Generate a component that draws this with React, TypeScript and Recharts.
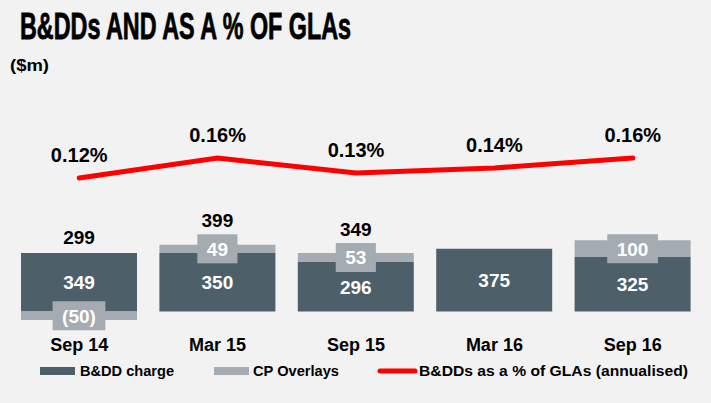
import { ComposedChart, Bar, Line, XAxis, YAxis, LabelList } from 'recharts'

const periods = ['Sep 14', 'Mar 15', 'Sep 15', 'Mar 16', 'Sep 16']
const bddCharge = [349, 350, 296, 375, 325]
const cpOverlays = [-50, 49, 53, null, 100]
const totals = [299, 399, 349, null, 425]
const pctOfGlas = [0.12, 0.16, 0.13, 0.14, 0.16]

const data = periods.map((period, i) => ({
    period,
    charge: bddCharge[i],
    overlay: cpOverlays[i],
    total: totals[i],
    pct: pctOfGlas[i],
}))

const DARK = '#4d606a'
const GREY = '#a5acb1'
const RED = '#ff0000'
const ARIAL = "'Liberation Sans', Arial, sans-serif"

// rough Arial bold glyph widths, used to size the overlay label boxes
const textWidth = (s: string, size: number) =>
    s.split('').reduce((w, c) => w + (c === '(' || c === ')' ? 0.333 : 0.556), 0) * size

const fmtOverlay = (v: number) => (v < 0 ? `(${Math.abs(v)})` : String(v))

const ChargeLabel = (props: any) => {
    const { x, y, width, height } = props.viewBox ?? props
    const i = props.index
    const cx = x + width / 2
    const top = Math.min(y, y + height)
    const overlay = cpOverlays[i]
    const total = totals[i]
    return (
        <g>
            <text x={cx} y={y + height / 2} dy="0.36em" textAnchor="middle" fill="#fff"
                fontFamily={ARIAL} fontWeight="bold" fontSize={19}>
                {props.value}
            </text>
            {/* total sits on the charge bar when the overlay is negative */}
            {overlay != null && overlay < 0 && total != null && (
                <text x={cx} y={top - 16} dy="0.36em" textAnchor="middle" fill="#000"
                    fontFamily={ARIAL} fontWeight="bold" fontSize={19}>
                    {total}
                </text>
            )}
        </g>
    )
}

const OverlayLabel = (props: any) => {
    const { x, y, width, height } = props.viewBox ?? props
    const i = props.index
    const value = props.value
    if (value == null || value === 0) return null
    const cx = x + width / 2
    const cy = y + height / 2
    const text = fmtOverlay(value)
    const boxW = textWidth(text, 19) + 19
    const boxH = 29
    const boxTop = cy - boxH / 2
    const top = Math.min(y, y + height, boxTop)
    const total = totals[i]
    return (
        <g>
            <rect x={cx - boxW / 2} y={boxTop} width={boxW} height={boxH} fill={GREY} />
            <text x={cx} y={cy} dy="0.36em" textAnchor="middle" fill="#fff"
                fontFamily={ARIAL} fontWeight="bold" fontSize={19}>
                {text}
            </text>
            {value > 0 && total != null && (
                <text x={cx} y={top - 14} dy="0.36em" textAnchor="middle" fill="#000"
                    fontFamily={ARIAL} fontWeight="bold" fontSize={19}>
                    {total}
                </text>
            )}
        </g>
    )
}

const PctLabel = (props: any) => {
    const { x, y } = props.viewBox ?? props
    return (
        <text x={x} y={y - 23} dy="0.36em" textAnchor="middle" fill="#000"
            fontFamily={ARIAL} fontWeight="bold" fontSize={20}>
            {`${Number(props.value).toFixed(2)}%`}
        </text>
    )
}

const PeriodTick = (props: any) => (
    <text x={props.x} y={props.y + 15} dy="0.36em" textAnchor="middle" fill="#000"
        fontFamily={ARIAL} fontWeight="bold" fontSize={18}>
        {props.payload.value}
    </text>
)

export default function App() {
    return (
        <div style={{ position: 'absolute', left: 0, top: 0, width: 711, height: 403, background: '#f2f2f2', overflow: 'hidden' }}>
            <svg width={711} height={90} style={{ position: 'absolute', left: 0, top: 0 }}>
                <text x={20} y={39} fontFamily={ARIAL} fontWeight="bold" fontSize={36}
                    textLength={331} lengthAdjust="spacingAndGlyphs" fill="#000"
                    stroke="#000" strokeWidth={0.8}>
                    B&amp;DDs AND AS A % OF GLAs
                </text>
                <text x={10} y={65} dy="0.36em" fontFamily={ARIAL} fontWeight="bold" fontSize={16}
                    textLength={39} lengthAdjust="spacingAndGlyphs" fill="#000">
                    ($m)
                </text>
            </svg>
            <div style={{ position: 'absolute', left: 0, top: 0 }}>
                <ComposedChart width={711} height={403} data={data} stackOffset="sign"
                    margin={{ top: 0, right: 9, bottom: 43, left: 10 }}>
                    <XAxis dataKey="period" axisLine={false} tickLine={false} tickSize={0} tickMargin={0}
                        height={30} interval={0} tick={<PeriodTick />} />
                    <YAxis yAxisId="bars" hide domain={[-110, 1859]} allowDataOverflow />
                    <YAxis yAxisId="pct" orientation="right" hide domain={[-0.184, 0.476]} allowDataOverflow />
                    <Bar yAxisId="bars" dataKey="charge" stackId="a" fill={DARK} barSize={116} isAnimationActive={false}>
                        <LabelList dataKey="charge" content={<ChargeLabel />} />
                    </Bar>
                    <Bar yAxisId="bars" dataKey="overlay" stackId="a" fill={GREY} barSize={116} isAnimationActive={false}>
                        <LabelList dataKey="overlay" content={<OverlayLabel />} />
                    </Bar>
                    <Line yAxisId="pct" dataKey="pct" type="linear" stroke={RED} strokeWidth={5}
                        strokeLinecap="round" dot={false} activeDot={false} isAnimationActive={false}>
                        <LabelList dataKey="pct" content={<PctLabel />} />
                    </Line>
                </ComposedChart>
            </div>
            <svg width={711} height={30} style={{ position: 'absolute', left: 0, top: 356 }}>
                <rect x={40} y={11} width={35} height={8} fill={DARK} />
                <text x={80} y={15} dy="0.36em" fontFamily={ARIAL} fontWeight="bold" fontSize={15}
                    textLength={94} lengthAdjust="spacingAndGlyphs" fill="#000">B&amp;DD charge</text>
                <rect x={214} y={11} width={35} height={8} fill={GREY} />
                <text x={253} y={15} dy="0.36em" fontFamily={ARIAL} fontWeight="bold" fontSize={15}
                    textLength={86} lengthAdjust="spacingAndGlyphs" fill="#000">CP Overlays</text>
                <line x1={380} y1={15} x2={415} y2={15} stroke={RED} strokeWidth={5} strokeLinecap="round" />
                <text x={419} y={15} dy="0.36em" fontFamily={ARIAL} fontWeight="bold" fontSize={15}
                    textLength={269} lengthAdjust="spacingAndGlyphs" fill="#000">B&amp;DDs as a % of GLAs (annualised)</text>
            </svg>
        </div>
    )
}
